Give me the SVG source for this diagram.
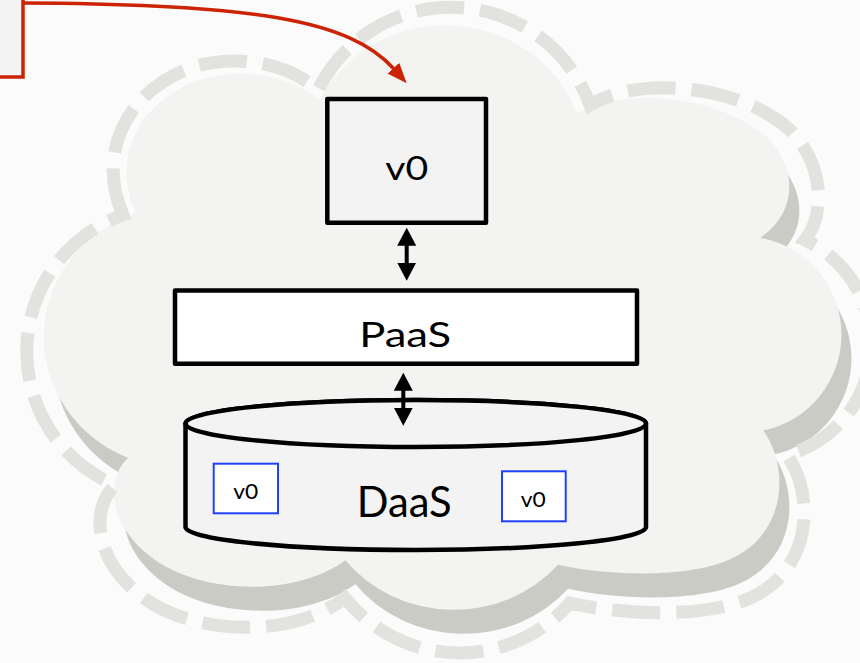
<svg xmlns="http://www.w3.org/2000/svg" xmlns:xlink="http://www.w3.org/1999/xlink" width="860" height="663" viewBox="0 0 860 663">
<defs>
<style>
.bg{fill:#fbfbfb}
.cloud-shadow{fill:#cbcbc6}
.cloud-fill{fill:#f3f3f2}
.cloud-dash{fill:none;stroke:#e2e2de;stroke-width:13;stroke-dasharray:48 16}
.box{stroke:#000;stroke-width:4.5;stroke-linejoin:round}
.lbl{font-family:Lato,"Liberation Sans",sans-serif;fill:#000;text-anchor:middle}
.small{fill:#fff;stroke:#2040ff;stroke-width:2}
.dbl{stroke:#000;stroke-width:4;fill:none}
.red{stroke:#cd2305;stroke-width:3.5;fill:none}
</style>
<marker id="ah" viewBox="0 0 18 19" refX="1" refY="9.5" markerWidth="18" markerHeight="19" markerUnits="userSpaceOnUse" orient="auto-start-reverse"><path d="M0,0 L18,9.5 L0,19 Z" fill="#000"/></marker>
<marker id="ahr" viewBox="0 0 20 16" refX="1" refY="8" markerWidth="20" markerHeight="16" markerUnits="userSpaceOnUse" orient="auto"><path d="M0,0 L20,8 L0,16 Z" fill="#cd2305"/></marker>
<path id="cloudF" d="M135.7 213.2 C109.2 154.3 142.3 99.9 199 80 C246.2 65.5 293.5 77.3 319.9 99.9 A140 134 0 0 1 577 113.5 C624.2 86.3 718.7 95.4 765.9 136.2 C799.1 167.9 797 213 760 238 A98 98 0 0 1 763.1 430.6 C786.8 462.3 789.6 525.7 737.6 555.6 C695.1 580.1 605.3 575.6 558.1 564.7 A139 133 0 0 1 345.4 560.2 C293.5 598.2 199 593.7 151.7 557.5 C109.2 525.7 104.5 480.4 128.1 457.8 A137 131 0 0 1 135.7 213.2 Z"/>
</defs>
<rect class="bg" x="0" y="0" width="860" height="663"/>
<g id="cloud">
<use xlink:href="#cloudF" href="#cloudF" class="cloud-shadow" transform="translate(10,24)"/>
<use xlink:href="#cloudF" href="#cloudF" class="cloud-fill"/>
<path class="cloud-dash" d="M123 215 C95 150 130 90 190 68 C240 52 290 65 318 90 A148 148 0 0 1 590 105 C640 75 740 85 790 130 C825 165 825 215 805 240 A115 115 0 0 1 787 455 C812 490 815 560 760 593 C715 620 620 615 570 603 A147 147 0 0 1 345 598 C290 640 190 635 140 595 C95 560 90 510 115 485 A145 145 0 0 1 123 215 Z"/>
</g>
<g id="node-source">
<rect x="-20" y="-20" width="43" height="97" fill="#f3f3f3" stroke="#cd2305" stroke-width="3.5"/>
</g>
<g id="node-v0">
<rect class="box" x="327.3" y="99" width="158.7" height="123.7" fill="#f3f3f3"/>
<text class="lbl" x="406.7" y="180" font-size="32.5" textLength="43" lengthAdjust="spacingAndGlyphs">v0</text>
</g>
<g id="node-paas">
<rect class="box" x="175" y="290.5" width="462" height="73.3" fill="#ffffff"/>
<text class="lbl" x="405.2" y="346.7" font-size="35" textLength="92" lengthAdjust="spacingAndGlyphs">PaaS</text>
</g>
<g id="node-daas">
<path class="box" fill="#f3f3f3" d="M185.5 423.5 L185.5 527 A230.25 23 0 0 0 646 527 L646 423.5 A230.25 23.5 0 0 0 185.5 423.5 Z"/>
<ellipse class="box" fill="#f3f3f3" cx="415.75" cy="423.5" rx="230.25" ry="23.5"/>
<text class="lbl" x="404.2" y="516.7" font-size="42" textLength="95" lengthAdjust="spacingAndGlyphs">DaaS</text>
</g>
<g id="node-v0-a">
<rect class="small" x="213.7" y="463.7" width="64.3" height="49.6"/>
<text class="lbl" x="245.8" y="499" font-size="22" textLength="25" lengthAdjust="spacingAndGlyphs">v0</text>
</g>
<g id="node-v0-b">
<rect class="small" x="502" y="471.3" width="63.7" height="50"/>
<text class="lbl" x="533.2" y="506.7" font-size="22" textLength="25" lengthAdjust="spacingAndGlyphs">v0</text>
</g>
<g id="connectors">
<path class="red" d="M23 3 C255 4 350 20 394 69" marker-end="url(#ahr)"/>
<path class="dbl" d="M406.7 244.7 V263.7" marker-start="url(#ah)" marker-end="url(#ah)"/>
<path class="dbl" d="M403.3 389.7 V408.7" marker-start="url(#ah)" marker-end="url(#ah)"/>
</g>
</svg>
